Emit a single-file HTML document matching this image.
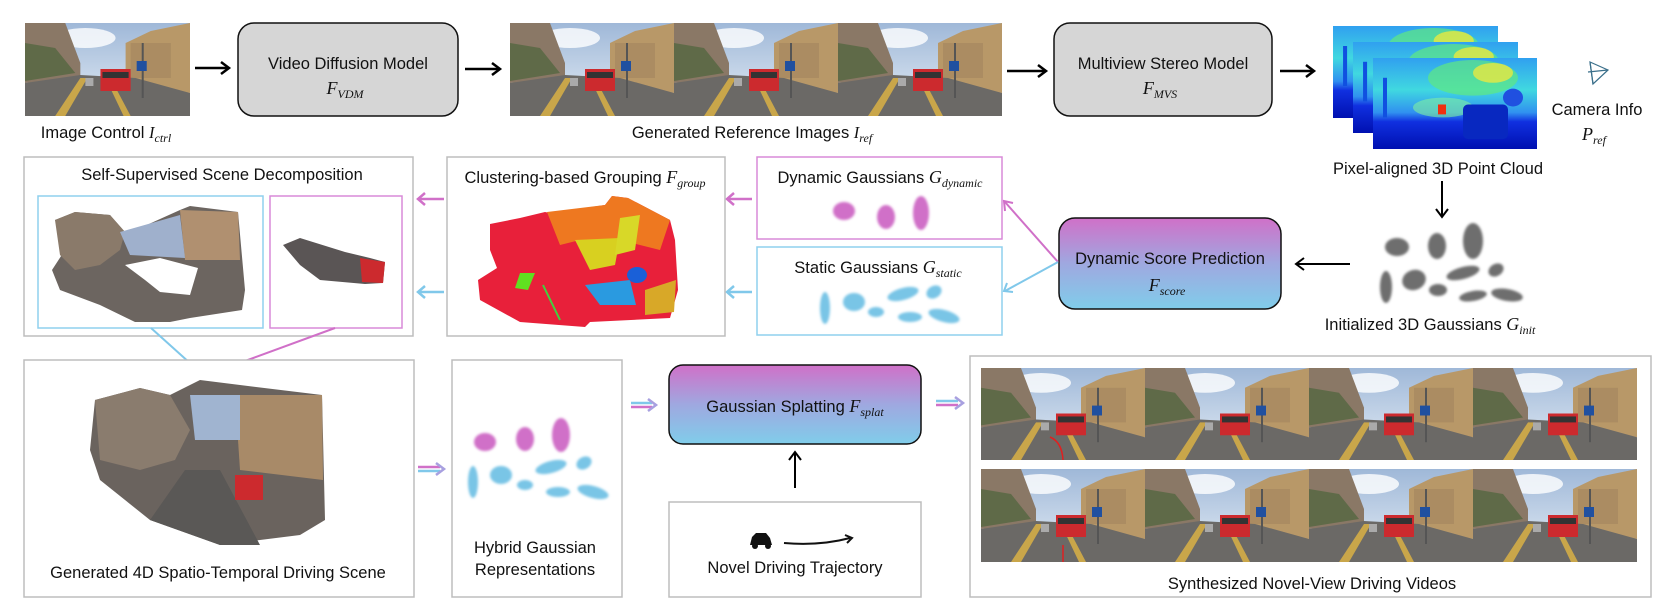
<!DOCTYPE html>
<html><head><meta charset="utf-8"><style>
html,body{margin:0;padding:0;background:#fff;}
svg{display:block;font-family:"Liberation Sans",sans-serif;}
.t{font-size:16.5px;fill:#111;text-anchor:middle;}
.m{font-family:"Liberation Serif",serif;font-style:italic;}
.sb{font-size:12px;}
</style></head><body>
<svg width="1661" height="615" viewBox="0 0 1661 615" xmlns="http://www.w3.org/2000/svg">
<defs>
<filter id="bl" x="-50%" y="-50%" width="200%" height="200%"><feGaussianBlur stdDeviation="1.3"/></filter>
<linearGradient id="pg" x1="0" y1="0" x2="0" y2="1"><stop offset="0" stop-color="#d070c8"/><stop offset="0.5" stop-color="#9fa8e0"/><stop offset="1" stop-color="#80cdea"/></linearGradient>
<linearGradient id="sky" x1="0" y1="0" x2="0" y2="1"><stop offset="0" stop-color="#9fb8d8"/><stop offset="1" stop-color="#e6eef6"/></linearGradient>
<linearGradient id="dep" x1="0" y1="0" x2="0" y2="1"><stop offset="0" stop-color="#30a0f0"/><stop offset="0.35" stop-color="#40d8e0"/><stop offset="0.6" stop-color="#3090f0"/><stop offset="0.7" stop-color="#1030e0"/><stop offset="1" stop-color="#0010b0"/></linearGradient>
<symbol id="st" viewBox="0 0 164 93" preserveAspectRatio="none">
<rect width="164" height="93" fill="url(#sky)"/>
<ellipse cx="60" cy="15" rx="30" ry="10" fill="#fff" opacity=".8"/>
<polygon points="0,0 40,0 55,40 55,55 0,60" fill="#8a7866"/>
<polygon points="0,20 30,25 50,50 0,58" fill="#5f6a48"/>
<polygon points="100,20 125,8 164,0 164,70 100,60" fill="#b89868"/>
<rect x="105" y="20" width="40" height="35" fill="#a58860" opacity=".7"/>
<polygon points="0,60 55,52 110,55 164,70 164,93 0,93" fill="#6b6966"/>
<polygon points="55,55 62,55 40,93 30,93" fill="#c9a64a"/>
<polygon points="80,55 85,55 105,93 98,93" fill="#c9a64a"/>
<rect x="75" y="46" width="30" height="22" fill="#cc2a2e"/>
<rect x="77" y="49" width="26" height="6" fill="#333"/>
<rect x="60" y="55" width="8" height="8" fill="#aaa"/>
<rect x="116" y="20" width="2" height="55" fill="#555"/>
<rect x="111" y="38" width="10" height="10" fill="#2050a0"/>
</symbol>
<symbol id="dm" viewBox="0 0 164 92" preserveAspectRatio="none">
<rect width="164" height="92" fill="url(#dep)"/>
<ellipse cx="100" cy="20" rx="45" ry="18" fill="#60e880" opacity=".7"/>
<ellipse cx="120" cy="15" rx="20" ry="10" fill="#e8e840" opacity=".8"/>
<ellipse cx="70" cy="50" rx="30" ry="10" fill="#80f0a0" opacity=".6"/>
<rect x="65" y="47" width="8" height="10" fill="#f03010"/>
<rect x="90" y="47" width="45" height="35" rx="5" fill="#0828c0"/>
<ellipse cx="140" cy="40" rx="10" ry="9" fill="#2050e0"/>
<rect x="10" y="20" width="4" height="40" fill="#1050e0"/>
</symbol>
</defs>

<!-- top row -->
<use href="#st" x="25" y="23" width="165" height="93"/>
<text class="t" x="106" y="138">Image Control <tspan class="m">I</tspan><tspan class="m sb" dy="4">ctrl</tspan></text>
<g stroke="#000" stroke-width="2.5" fill="none">
<line x1="195" y1="68" x2="228" y2="68"/><polyline points="221,62 229,68 221,74"/>
<line x1="465" y1="69" x2="499" y2="69"/><polyline points="492,63 500,69 492,75"/>
<line x1="1007" y1="71" x2="1045" y2="71"/><polyline points="1038,65 1046,71 1038,77"/>
<line x1="1280" y1="71" x2="1313" y2="71"/><polyline points="1306,65 1314,71 1306,77"/>
</g>
<rect x="238" y="23" width="220" height="93" rx="16" fill="#d6d6d6" stroke="#111" stroke-width="1.5"/>
<text class="t" x="348" y="69">Video Diffusion Model</text>
<text class="t m" x="345" y="94" style="font-size:18px">F<tspan class="sb" dy="4">VDM</tspan></text>
<use href="#st" x="510" y="23" width="164" height="93"/>
<use href="#st" x="674" y="23" width="164" height="93"/>
<use href="#st" x="838" y="23" width="164" height="93"/>
<text class="t" x="752" y="138">Generated Reference Images <tspan class="m">I</tspan><tspan class="m sb" dy="4">ref</tspan></text>
<rect x="1054" y="23" width="218" height="93" rx="16" fill="#d6d6d6" stroke="#111" stroke-width="1.5"/>
<text class="t" x="1163" y="69">Multiview Stereo Model</text>
<text class="t m" x="1160" y="94" style="font-size:18px">F<tspan class="sb" dy="4">MVS</tspan></text>
<use href="#dm" x="1333" y="26" width="165" height="92"/>
<use href="#dm" x="1353" y="42" width="165" height="91"/>
<use href="#dm" x="1373" y="58" width="164" height="91"/>
<g stroke="#3a6f8a" stroke-width="1.2" fill="none"><polygon points="1590,62 1608,70 1593,84"/><line x1="1590" y1="62" x2="1593" y2="84"/><line x1="1588" y1="72" x2="1608" y2="70"/></g>
<text class="t" x="1597" y="115">Camera Info</text>
<text class="t m" x="1594" y="140" style="font-size:18px">P<tspan class="sb" dy="4">ref</tspan></text>
<text class="t" x="1438" y="174">Pixel-aligned 3D Point Cloud</text>
<g stroke="#000" stroke-width="2" fill="none">
<line x1="1442" y1="181" x2="1442" y2="216"/><polyline points="1436,209 1442,217 1448,209"/>
<line x1="1350" y1="264" x2="1297" y2="264"/><polyline points="1304,258 1296,264 1304,270"/>
<line x1="795" y1="488" x2="795" y2="453"/><polyline points="789,460 795,452 801,460"/>
</g>
<g fill="#6e6e6e" filter="url(#bl)">
<ellipse cx="1397" cy="247" rx="12" ry="9"/><ellipse cx="1437" cy="246" rx="9" ry="13"/><ellipse cx="1473" cy="241" rx="10" ry="18"/>
<ellipse cx="1386" cy="287" rx="6" ry="16"/><ellipse cx="1414" cy="280" rx="12" ry="10" transform="rotate(-20 1414 280)"/><ellipse cx="1438" cy="290" rx="9" ry="6"/>
<ellipse cx="1463" cy="273" rx="17" ry="6" transform="rotate(-15 1463 273)"/><ellipse cx="1496" cy="270" rx="8" ry="6" transform="rotate(-30 1496 270)"/>
<ellipse cx="1473" cy="296" rx="14" ry="5" transform="rotate(-10 1473 296)"/><ellipse cx="1507" cy="295" rx="16" ry="6" transform="rotate(10 1507 295)"/>
</g>
<text class="t" x="1430" y="330">Initialized 3D Gaussians <tspan class="m" style="font-size:18px">G</tspan><tspan class="m sb" dy="4">init</tspan></text>

<rect x="1059" y="218" width="222" height="91" rx="16" fill="url(#pg)" stroke="#111" stroke-width="1.5"/>
<text class="t" x="1170" y="264">Dynamic Score Prediction</text>
<text class="t m" x="1167" y="291" style="font-size:18px">F<tspan class="sb" dy="4">score</tspan></text>
<line x1="1058" y1="262" x2="1005" y2="202" stroke="#d070c8" stroke-width="2"/><polyline points="1005,211 1004,201 1013,203" stroke="#d070c8" stroke-width="2" fill="none"/>
<line x1="1058" y1="262" x2="1005" y2="291" stroke="#80c8ea" stroke-width="2"/><polyline points="1007,283 1004,291 1013,292" stroke="#80c8ea" stroke-width="2" fill="none"/>

<!-- dynamic / static -->
<rect x="757" y="157" width="245" height="82" fill="#fff" stroke="#d98ad8" stroke-width="1.5"/>
<text class="t" x="880" y="183">Dynamic Gaussians <tspan class="m" style="font-size:18px">G</tspan><tspan class="m sb" dy="4">dynamic</tspan></text>
<g fill="#d070c8" filter="url(#bl)"><ellipse cx="844" cy="211" rx="11" ry="9"/><ellipse cx="886" cy="217" rx="9" ry="12"/><ellipse cx="921" cy="213" rx="8" ry="17"/></g>
<rect x="757" y="247" width="245" height="88" fill="#fff" stroke="#8fd0ee" stroke-width="1.5"/>
<text class="t" x="878" y="273">Static Gaussians <tspan class="m" style="font-size:18px">G</tspan><tspan class="m sb" dy="4">static</tspan></text>
<g fill="#79c5e6" filter="url(#bl)"><ellipse cx="825" cy="308" rx="5" ry="16"/><ellipse cx="854" cy="302" rx="11" ry="9"/><ellipse cx="876" cy="312" rx="8" ry="5"/><ellipse cx="903" cy="294" rx="16" ry="6" transform="rotate(-15 903 294)"/><ellipse cx="934" cy="292" rx="8" ry="6" transform="rotate(-30 934 292)"/><ellipse cx="910" cy="317" rx="12" ry="5"/><ellipse cx="944" cy="316" rx="16" ry="6" transform="rotate(15 944 316)"/></g>

<!-- arrows left -->
<g stroke-width="2.5" fill="none">
<g stroke="#d070c8"><line x1="752" y1="199" x2="728" y2="199"/><polyline points="734,193 727,199 734,205"/><line x1="444" y1="199" x2="419" y2="199"/><polyline points="425,193 418,199 425,205"/></g>
<g stroke="#80c8ea"><line x1="752" y1="292" x2="728" y2="292"/><polyline points="734,286 727,292 734,298"/><line x1="444" y1="292" x2="419" y2="292"/><polyline points="425,286 418,292 425,298"/></g>
</g>

<!-- clustering -->
<rect x="447" y="157" width="278" height="179" fill="#fff" stroke="#bdbdbd" stroke-width="1.5"/>
<text class="t" x="585" y="183">Clustering-based Grouping <tspan class="m" style="font-size:18px">F</tspan><tspan class="m sb" dy="4">group</tspan></text>
<path d="M490,224 L520,218 L545,212 L550,213 L605,205 L612,196 L628,198 L670,220 L675,240 L678,290 L670,318 L590,322 L585,327 L520,322 L480,300 L478,280 L497,268 L490,250 Z" fill="#e8203a"/>
<path d="M547,212 L605,205 L612,196 L628,198 L670,220 L660,250 L620,240 L580,240 L560,245 Z" fill="#ee7820"/>
<path d="M575,240 L620,238 L615,265 L590,270 Z" fill="#d8d020"/>
<path d="M620,218 L640,215 L635,250 L615,255 Z" fill="#d8d828"/>
<path d="M585,285 L630,280 L636,305 L600,305 Z" fill="#2a9ae0"/>
<ellipse cx="637" cy="275" rx="10" ry="8" fill="#1a60d8"/>
<path d="M520,273 L535,273 L528,290 L515,288 Z" fill="#60e020"/>
<path d="M645,290 L676,280 L674,312 L645,315 Z" fill="#d8a828"/>
<line x1="543" y1="285" x2="560" y2="320" stroke="#40d040" stroke-width="2"/>

<!-- self-supervised -->
<rect x="24" y="157" width="389" height="179" fill="#fff" stroke="#bdbdbd" stroke-width="1.5"/>
<text class="t" x="222" y="180">Self-Supervised Scene Decomposition</text>
<rect x="38" y="196" width="225" height="132" fill="#fff" stroke="#8fd0ee" stroke-width="1.5"/>
<rect x="270" y="196" width="132" height="132" fill="#fff" stroke="#d98ad8" stroke-width="1.5"/>
<path d="M55,220 L75,212 L110,215 L125,232 L140,228 L180,210 L190,206 L238,212 L245,290 L242,310 L190,318 L170,322 L135,322 L100,305 L60,290 L52,270 L65,250 Z" fill="#6c6560"/>
<path d="M55,220 L75,212 L110,215 L125,232 L120,250 L100,265 L75,270 L60,255 Z" fill="#8a7a6a"/>
<path d="M180,210 L238,212 L240,260 L185,260 Z" fill="#b09070"/>
<path d="M120,232 L180,215 L185,258 L130,255 Z" fill="#9fb0cc"/>
<path d="M125,265 L160,258 L198,268 L190,295 L160,292 L145,280 Z" fill="#fff"/>
<path d="M283,245 L300,238 L345,252 L370,258 L385,262 L383,283 L365,284 L320,280 L300,265 Z" fill="#5a5555"/>
<path d="M360,258 L385,262 L383,283 L362,282 Z" fill="#cc2a2e"/>

<!-- connectors to 4D -->
<g stroke-width="2" fill="none">
<line x1="151" y1="328" x2="201" y2="373" stroke="#80c8ea"/><polyline points="192,371 202,375 200,366" stroke="#80c8ea"/>
<line x1="335" y1="328" x2="207" y2="375" stroke="#d070c8"/><polyline points="213,368 205,376 215,378" stroke="#d070c8"/>
</g>

<!-- generated 4D -->
<rect x="24" y="360" width="390" height="237" fill="#fff" stroke="#bdbdbd" stroke-width="1.5"/>
<path d="M95,400 L140,388 L170,395 L200,380 L240,385 L322,395 L325,520 L300,535 L220,545 L150,520 L100,480 L90,450 Z" fill="#6a635e"/>
<path d="M95,400 L140,388 L170,395 L190,430 L175,460 L140,470 L100,460 Z" fill="#8a7c6e"/>
<path d="M235,395 L322,395 L323,480 L240,470 Z" fill="#a88a68"/>
<path d="M190,395 L240,395 L240,440 L195,440 Z" fill="#a0b4d0"/>
<path d="M150,520 L185,470 L220,470 L260,545 L220,545 Z" fill="#5a5856"/>
<rect x="235" y="475" width="28" height="25" fill="#cc2a2e"/>
<text class="t" x="218" y="578">Generated 4D Spatio-Temporal Driving Scene</text>

<g stroke-width="2.5" fill="none">
<line x1="418" y1="467" x2="440" y2="467" stroke="#d070c8"/><line x1="418" y1="471" x2="440" y2="471" stroke="#80c8ea"/><polyline points="436,463 444,469 436,475" stroke="#a8a0e0"/>
<line x1="631" y1="403" x2="652" y2="403" stroke="#80c8ea"/><line x1="631" y1="407" x2="652" y2="407" stroke="#d070c8"/><polyline points="648,399 656,405 648,411" stroke="#a8a0e0"/>
<line x1="936" y1="401" x2="958" y2="401" stroke="#80c8ea"/><line x1="936" y1="405" x2="958" y2="405" stroke="#d070c8"/><polyline points="955,397 963,403 955,409" stroke="#a8a0e0"/>
</g>

<!-- hybrid -->
<rect x="452" y="360" width="170" height="237" fill="#fff" stroke="#bdbdbd" stroke-width="1.5"/>
<g fill="#d070c8" filter="url(#bl)"><ellipse cx="485" cy="442" rx="11" ry="9"/><ellipse cx="525" cy="439" rx="9" ry="12"/><ellipse cx="561" cy="435" rx="9" ry="17"/></g>
<g fill="#79c5e6" filter="url(#bl)"><ellipse cx="473" cy="482" rx="5" ry="16"/><ellipse cx="501" cy="475" rx="11" ry="9"/><ellipse cx="525" cy="485" rx="8" ry="5"/><ellipse cx="551" cy="467" rx="16" ry="6" transform="rotate(-15 551 467)"/><ellipse cx="584" cy="463" rx="8" ry="6" transform="rotate(-30 584 463)"/><ellipse cx="558" cy="492" rx="12" ry="5"/><ellipse cx="593" cy="492" rx="16" ry="6" transform="rotate(15 593 492)"/></g>
<text class="t" x="535" y="553">Hybrid Gaussian</text>
<text class="t" x="535" y="575">Representations</text>

<!-- splatting -->
<rect x="669" y="365" width="252" height="79" rx="14" fill="url(#pg)" stroke="#111" stroke-width="1.5"/>
<text class="t" x="795" y="412">Gaussian Splatting <tspan class="m" style="font-size:18px">F</tspan><tspan class="m sb" dy="4">splat</tspan></text>
<rect x="669" y="502" width="252" height="95" fill="#fff" stroke="#bdbdbd" stroke-width="1.5"/>
<g fill="#111"><path d="M750,545 L752,537 L756,533 L766,533 L770,538 L772,545 Z"/><circle cx="755" cy="546" r="3"/><circle cx="768" cy="546" r="3"/></g>
<path d="M784,543 Q820,546 850,538" stroke="#111" stroke-width="2" fill="none"/><polyline points="845,535 852,538 847,543" stroke="#111" stroke-width="2" fill="none"/>
<text class="t" x="795" y="573">Novel Driving Trajectory</text>

<!-- synthesized -->
<rect x="970" y="356" width="681" height="241" fill="#fff" stroke="#bdbdbd" stroke-width="1.5"/>
<use href="#st" x="981" y="368" width="164" height="92"/>
<use href="#st" x="1145" y="368" width="164" height="92"/>
<use href="#st" x="1309" y="368" width="164" height="92"/>
<use href="#st" x="1473" y="368" width="164" height="92"/>
<use href="#st" x="981" y="469" width="164" height="93"/>
<use href="#st" x="1145" y="469" width="164" height="93"/>
<use href="#st" x="1309" y="469" width="164" height="93"/>
<use href="#st" x="1473" y="469" width="164" height="93"/>
<path d="M1050,437 Q1062,442 1063,460" stroke="#e02020" stroke-width="1.5" fill="none"/>
<line x1="1063" y1="545" x2="1063" y2="562" stroke="#e02020" stroke-width="1.5"/>
<text class="t" x="1312" y="589">Synthesized Novel-View Driving Videos</text>
</svg>
</body></html>
